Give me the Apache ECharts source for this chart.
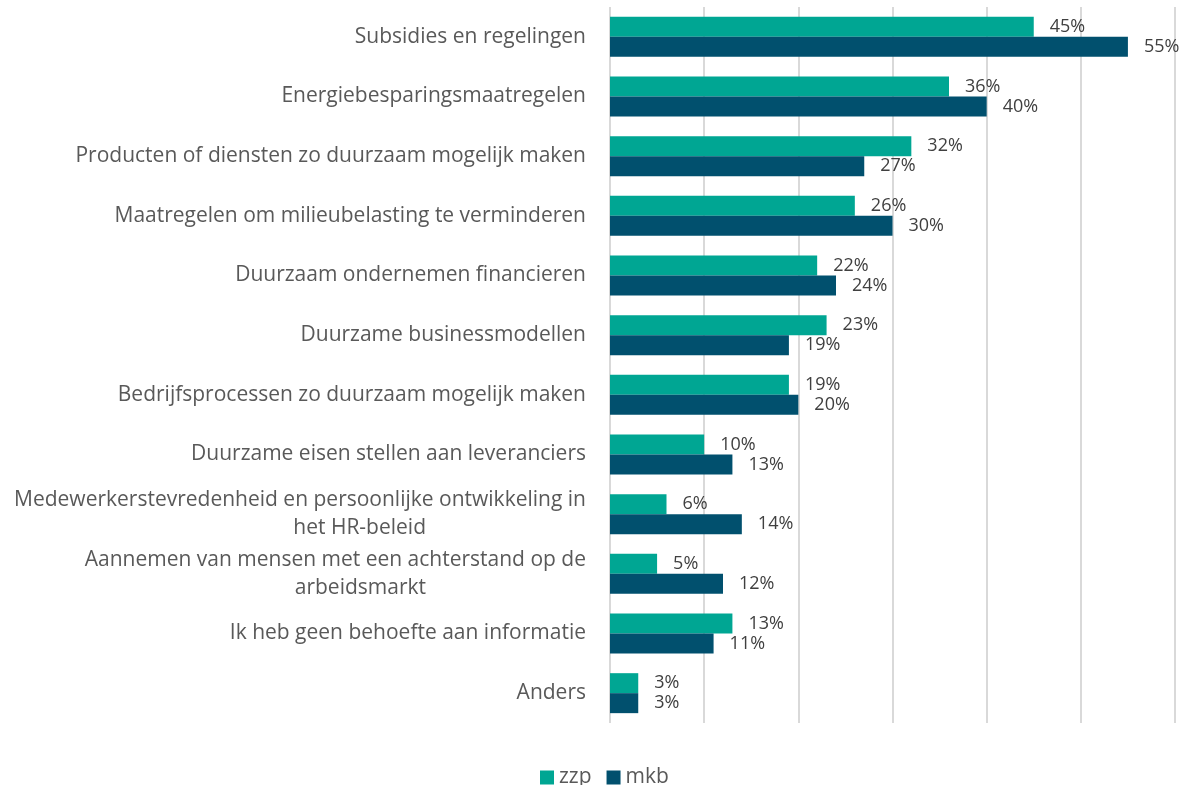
<!DOCTYPE html>
<html>
<head>
<meta charset="utf-8">
<script src="https://cdn.jsdelivr.net/npm/echarts@6/dist/echarts.min.js"></script>
<style>
html,body{margin:0;padding:0;background:#fff;}
#chart{width:1179px;height:785px;}
</style>
</head>
<body>
<div id="chart"></div>
<script>
const categories = [
  "Subsidies en regelingen",
  "Energiebesparingsmaatregelen",
  "Producten of diensten zo duurzaam mogelijk maken",
  "Maatregelen om milieubelasting te verminderen",
  "Duurzaam ondernemen financieren",
  "Duurzame businessmodellen",
  "Bedrijfsprocessen zo duurzaam mogelijk maken",
  "Duurzame eisen stellen aan leveranciers",
  "Medewerkerstevredenheid en persoonlijke ontwikkeling in\nhet HR-beleid",
  "Aannemen van mensen met een achterstand op de\narbeidsmarkt",
  "Ik heb geen behoefte aan informatie",
  "Anders"
];
const zzp = [45, 36, 32, 26, 22, 23, 19, 10, 6, 5, 13, 3];
const mkb = [55, 40, 27, 30, 24, 19, 20, 13, 14, 12, 11, 3];
const seriesNames = ["zzp", "mkb"];
const xMax = 60;
const xInterval = 10;

const FONT = "'Open Sans', 'Noto Sans', sans-serif";
const chart = echarts.init(document.getElementById('chart'));
chart.setOption({
  animation: false,
  textStyle: {fontFamily: FONT},
  legend: {
    top: 762,
    left: 535,
    itemWidth: 14, itemHeight: 14,
    itemGap: 15,
    icon: 'rect',
    textStyle: {fontFamily: FONT, fontSize: 21, color: '#595959'},
    data: seriesNames
  },
  grid: {left: 610, right: 4, top: 7, bottom: 62, containLabel: false},
  xAxis: {
    type: 'value', min: 0, max: xMax, interval: xInterval,
    axisLabel: {show: false},
    axisLine: {show: false},
    axisTick: {show: false},
    splitLine: {show: true, lineStyle: {color: '#D9D9D9', width: 2}}
  },
  yAxis: {
    type: 'category', inverse: true, data: categories,
    axisLine: {show: false},
    axisTick: {show: false},
    axisLabel: {
      margin: 24,
      fontFamily: FONT, fontSize: 21, color: '#595959', lineHeight: 28,
      formatter: function (v) {
        return v.split('\n').map(function (l, i) {
          return (i === 0 ? '{c|' : '{d|') + l + '}';
        }).join('\n');
      },
      rich: {
        c: {align: 'right', fontFamily: FONT, fontSize: 21, color: '#595959', lineHeight: 28},
        d: {align: 'right', fontFamily: FONT, fontSize: 21, color: '#595959', lineHeight: 28, padding: [0, 160, 0, 0]}
      }
    }
  },
  series: [
    {
      name: seriesNames[0], type: 'bar', data: zzp,
      barGap: '0%', barCategoryGap: '33%',
      itemStyle: {color: '#00A693'},
      label: {show: true, position: 'right', distance: 16, formatter: '{c}%', fontFamily: FONT, fontSize: 18, color: '#404040'}
    },
    {
      name: seriesNames[1], type: 'bar', data: mkb,
      barGap: '0%', barCategoryGap: '33%',
      itemStyle: {color: '#01506E'},
      label: {show: true, position: 'right', distance: 16, formatter: '{c}%', fontFamily: FONT, fontSize: 18, color: '#404040'}
    }
  ]
});
</script>
</body>
</html>
